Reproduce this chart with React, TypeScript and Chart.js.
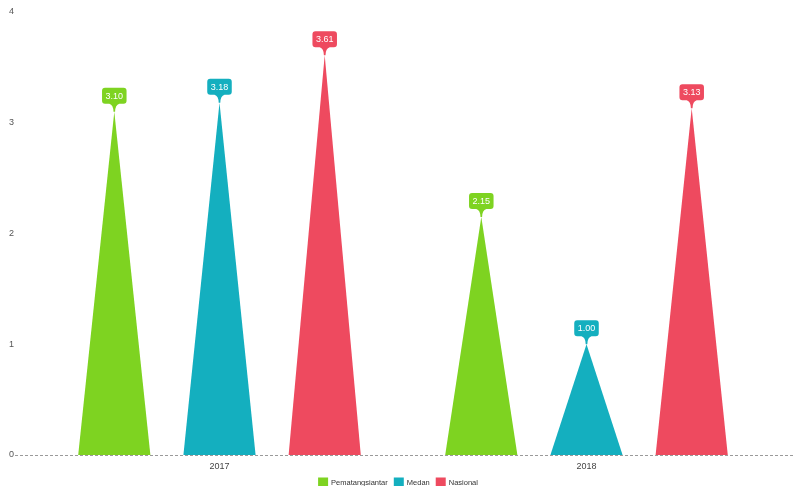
import React, { useEffect, useRef } from "react";
import { Chart, registerables } from "chart.js";

Chart.register(...registerables);

const categories = ["2017", "2018"];
const seriesNames = ["Pematangsiantar", "Medan", "Nasional"];
const pematangsiantar = [3.1, 2.15];
const medan = [3.18, 1.0];
const nasional = [3.61, 3.13];
const seriesColors = ["#7ED321", "#14AFBF", "#EE4A5F"];
const yMin = 0;
const yMax = 4;
const yStep = 1;

const FONT = "'Liberation Sans', Arial, sans-serif";

const baselinePlugin = {
  id: "baseline",
  beforeDatasetsDraw(chart: any) {
    const ctx = chart.ctx;
    const y = chart.scales.y.getPixelForValue(0);
    ctx.save();
    ctx.strokeStyle = "#9a9a9a";
    ctx.lineWidth = 1;
    ctx.setLineDash([3, 2]);
    ctx.beginPath();
    ctx.moveTo(15, y + 0.5);
    ctx.lineTo(chart.width, y + 0.5);
    ctx.stroke();
    ctx.restore();
  },
};

const trianglePlugin = {
  id: "triangles",
  beforeDatasetDraw(chart: any, args: any) {
    const meta = args.meta;
    const ds = chart.data.datasets[args.index];
    const ctx = chart.ctx;
    ctx.save();
    meta.data.forEach((el: any) => {
      const { x, y, base, width } = el.getProps(["x", "y", "base", "width"], true);
      ctx.beginPath();
      ctx.moveTo(x - width / 2, base);
      ctx.lineTo(x, y);
      ctx.lineTo(x + width / 2, base);
      ctx.closePath();
      ctx.fillStyle = ds.backgroundColor;
      ctx.fill();
    });
    ctx.restore();
    return false;
  },
};

const calloutPlugin = {
  id: "callouts",
  afterDatasetsDraw(chart: any) {
    const ctx = chart.ctx;
    ctx.save();
    ctx.font = `9px ${FONT}`;
    ctx.textAlign = "center";
    ctx.textBaseline = "middle";
    chart.data.datasets.forEach((ds: any, di: number) => {
      const meta = chart.getDatasetMeta(di);
      meta.data.forEach((el: any, i: number) => {
        const v = ds.data[i] as number;
        const text = v.toFixed(2);
        const { x, y } = el.getProps(["x", "y"], true);
        const w = ctx.measureText(text).width + 7;
        const h = 16;
        const neck = 8;
        const bottom = y - neck;
        const top = bottom - h;
        const left = x - w / 2;
        const r = 3;
        ctx.fillStyle = ds.backgroundColor;
        ctx.beginPath();
        ctx.moveTo(left + r, top);
        ctx.lineTo(left + w - r, top);
        ctx.quadraticCurveTo(left + w, top, left + w, top + r);
        ctx.lineTo(left + w, bottom - r);
        ctx.quadraticCurveTo(left + w, bottom, left + w - r, bottom);
        ctx.lineTo(x + 5, bottom);
        ctx.quadraticCurveTo(x + 1, bottom + 1, x + 0.8, y);
        ctx.lineTo(x - 0.8, y);
        ctx.quadraticCurveTo(x - 1, bottom + 1, x - 5, bottom);
        ctx.lineTo(left + r, bottom);
        ctx.quadraticCurveTo(left, bottom, left, bottom - r);
        ctx.lineTo(left, top + r);
        ctx.quadraticCurveTo(left, top, left + r, top);
        ctx.closePath();
        ctx.fill();
        ctx.fillStyle = "#ffffff";
        ctx.fillText(text, x, top + h / 2 + 0.5);
      });
    });
    ctx.restore();
  },
};

const legendPlugin = {
  id: "bottomLegend",
  afterDraw(chart: any) {
    const ctx = chart.ctx;
    const datasets = chart.data.datasets;
    const boxW = 10;
    const boxH = 9;
    const gapBoxText = 3;
    const gapItems = 6;
    const cy = 482;
    ctx.save();
    ctx.font = `7.5px ${FONT}`;
    ctx.textBaseline = "middle";
    ctx.textAlign = "left";
    const widths = datasets.map((d: any) => boxW + gapBoxText + ctx.measureText(d.label).width);
    const total = widths.reduce((a: number, b: number) => a + b, 0) + gapItems * (datasets.length - 1);
    let x = 398 - total / 2;
    datasets.forEach((d: any, i: number) => {
      ctx.fillStyle = d.backgroundColor;
      ctx.fillRect(x, cy - boxH / 2, boxW, boxH);
      ctx.fillStyle = "#333";
      ctx.fillText(d.label, x + boxW + gapBoxText, cy + 0.5);
      x += widths[i] + gapItems;
    });
    ctx.restore();
  },
};

export default function App() {
  const canvasRef = useRef<HTMLCanvasElement | null>(null);

  useEffect(() => {
    document.body.style.margin = "0";
    const canvas = canvasRef.current;
    if (!canvas) return;
    const values = [pematangsiantar, medan, nasional];
    const chart = new Chart(canvas, {
      type: "bar",
      data: {
        labels: categories,
        datasets: seriesNames.map((name, i) => ({
          label: name,
          data: values[i],
          backgroundColor: seriesColors[i],
          borderWidth: 0,
          categoryPercentage: 0.86,
          barPercentage: 0.686,
        })),
      },
      options: {
        animation: false,
        responsive: false,
        maintainAspectRatio: false,
        layout: { padding: { top: 12, right: 23, left: 9, bottom: 13 } },
        plugins: {
          tooltip: { enabled: false },
          legend: { display: false },
        },
        scales: {
          x: {
            grid: { display: false, drawTicks: false },
            border: { display: false },
            ticks: { color: "#444", padding: 6, font: { size: 9, family: FONT } },
            afterFit(scale: any) {
              scale.height = 18;
            },
          },
          y: {
            min: yMin,
            max: yMax,
            grid: { display: false, drawTicks: false },
            border: { display: false },
            ticks: {
              stepSize: yStep,
              color: "#555",
              crossAlign: "far",
              padding: 0,
              font: { size: 9, family: FONT },
            },
            afterFit(scale: any) {
              scale.width = 27;
            },
          },
        },
      },
      plugins: [baselinePlugin, trianglePlugin, calloutPlugin, legendPlugin],
    });
    return () => chart.destroy();
  }, []);

  return (
    <div style={{ position: "fixed", left: 0, top: 0, width: 793, height: 486, background: "#fff" }}>
      <canvas ref={canvasRef} width={793} height={486} style={{ width: 793, height: 486 }} />
    </div>
  );
}
